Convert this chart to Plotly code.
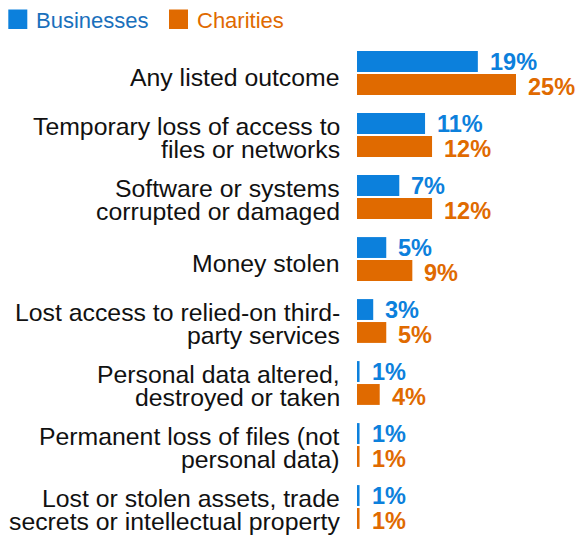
import plotly.graph_objects as go

# ---------------- data ----------------
categories = [
    "Any listed outcome",
    "Temporary loss of access to<br>files or networks",
    "Software or systems<br>corrupted or damaged",
    "Money stolen",
    "Lost access to relied-on third-<br>party services",
    "Personal data altered,<br>destroyed or taken",
    "Permanent loss of files (not<br>personal data)",
    "Lost or stolen assets, trade<br>secrets or intellectual property",
]
series_names = ["Businesses", "Charities"]
businesses = [19, 10.7, 6.65, 4.6, 2.55, 0.4, 0.4, 0.4]
charities = [25, 11.8, 11.8, 8.7, 4.6, 3.57, 0.4, 0.4]
businesses_labels = ["19%", "11%", "7%", "5%", "3%", "1%", "1%", "1%"]
charities_labels = ["25%", "12%", "12%", "9%", "5%", "4%", "1%", "1%"]

# ---------------- style ----------------
W, H = 577, 538
ML, MR, MT, MB = 357, 0, 42, 0
BLUE = "#0C80DC"
ORANGE = "#E06A00"
LEG_BLUE = "#1A70BC"
FONT = "Liberation Sans, Arial, sans-serif"
PX_PER_UNIT = 6.36
BARGAP = 0.26
BARGROUPGAP = 0.09

plot_w = W - ML - MR
plot_h = H - MT - MB
cat_px = plot_h / len(categories)
slot = cat_px * (1 - BARGAP) / 2


def px_x(px):
    return (px - ML) / plot_w


def px_y(py):
    return (H - MB - py) / plot_h


fig = go.Figure()
series = [
    (series_names[0], businesses, businesses_labels, BLUE),
    (series_names[1], charities, charities_labels, ORANGE),
]
for name, vals, _, col in series:
    fig.add_trace(go.Bar(
        name=name, y=categories, x=vals, orientation="h",
        marker=dict(color=col, line=dict(width=0)),
        showlegend=False, hoverinfo="x+y",
    ))

annotations = []
# value labels
for si, (name, vals, labs, col) in enumerate(series):
    shift = slot / 2 - 0.5 if si == 0 else -slot / 2 - 3
    for cat, v, lab in zip(categories, vals, labs):
        annotations.append(dict(
            x=v, y=cat, xref="x", yref="y", text="<b>%s</b>" % lab,
            showarrow=False, xanchor="left", yanchor="middle",
            xshift=12, yshift=shift, borderpad=0, borderwidth=0,
            font=dict(family=FONT, size=23.5, color=col),
        ))

# category labels (right aligned, tight line spacing)
LINE_SP = 23
for cat in categories:
    lines = cat.split("<br>")
    n = len(lines)
    base = -4 if n == 1 else -2.5
    for li, line in enumerate(lines):
        ys = base + ((n - 1) / 2 - li) * LINE_SP
        annotations.append(dict(
            x=0, y=cat, xref="paper", yref="y", text=line,
            showarrow=False, xanchor="right", yanchor="middle",
            xshift=-17, yshift=ys, borderpad=0, borderwidth=0,
            font=dict(family=FONT, size=24.8, color="#111111"),
        ))

# manual legend
shapes = []
legend_items = [
    (series_names[0], BLUE, LEG_BLUE, 8.3, 36),
    (series_names[1], ORANGE, ORANGE, 169, 196.7),
]
for name, col, tcol, sx, tx in legend_items:
    shapes.append(dict(
        type="rect", xref="paper", yref="paper",
        x0=px_x(sx), x1=px_x(sx + 19), y0=px_y(29), y1=px_y(9.5),
        fillcolor=col, line=dict(width=0),
    ))
    annotations.append(dict(
        x=px_x(tx), y=px_y(20.5), xref="paper", yref="paper",
        text=name, showarrow=False, xanchor="left", yanchor="middle",
        borderpad=0, borderwidth=0,
        font=dict(family=FONT, size=22, color=tcol),
    ))

fig.update_layout(
    width=W, height=H,
    margin=dict(l=ML, r=MR, t=MT, b=MB, pad=0),
    barmode="group", bargap=BARGAP, bargroupgap=BARGROUPGAP,
    plot_bgcolor="white", paper_bgcolor="white",
    xaxis=dict(range=[0, plot_w / PX_PER_UNIT], visible=False, fixedrange=True),
    yaxis=dict(type="category", autorange="reversed", visible=False,
               fixedrange=True),
    annotations=annotations, shapes=shapes,
    showlegend=False,
    font=dict(family=FONT),
)

fig.write_html(
    "out.html",
    config={"displayModeBar": False},
    post_script="document.body.style.margin='0px';document.body.style.overflow='hidden';",
)
